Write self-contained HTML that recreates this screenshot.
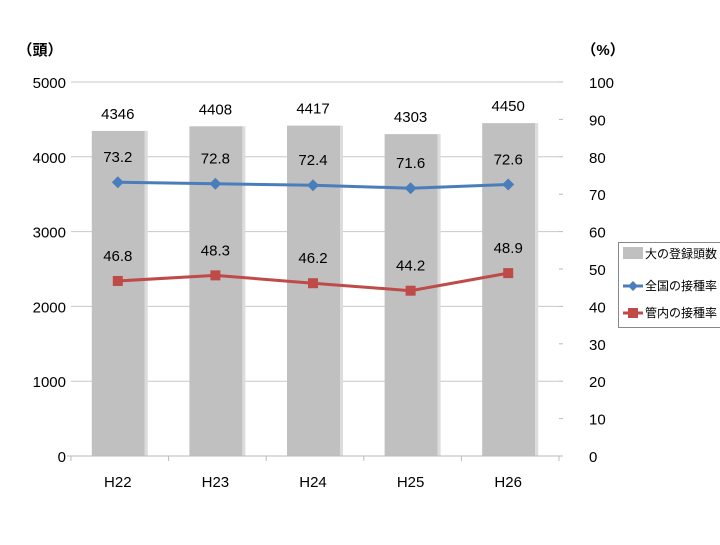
<!DOCTYPE html>
<html><head><meta charset="utf-8"><style>
body{margin:0;background:#fff}
svg text{font-family:"Liberation Sans","Noto Sans CJK JP",sans-serif;fill:#000}
</style></head><body>
<svg id="c" width="720" height="540" xmlns="http://www.w3.org/2000/svg"></svg>
<script>
const categories=["H22","H23","H24","H25","H26"];
const dogCounts=[4346,4408,4417,4303,4450];
const nationalRate=[73.2,72.8,72.4,71.6,72.6];
const localRate=[46.8,48.3,46.2,44.2,48.9];
const leftTicks=[0,1000,2000,3000,4000,5000];
const rightTicks=[0,10,20,30,40,50,60,70,80,90,100];
const svg=document.getElementById('c');
const NS="http://www.w3.org/2000/svg";
const X0=71,X1=559,Y0=456,Y1=82;
const bw=(X1-X0)/categories.length;
const xc=i=>X0+bw*(i+0.5);
const yL=v=>Y0-(v/5000)*(Y0-Y1);
const yR=v=>Y0-(v/100)*(Y0-Y1);
function mk(tag,attrs,parent){const e=document.createElementNS(NS,tag);for(const k in attrs)e.setAttribute(k,attrs[k]);(parent||svg).appendChild(e);return e;}
function txt(x,y,s,size,anchor){const t=mk('text',{x:x,y:y,'font-size':size,'text-anchor':anchor||'middle'});t.textContent=s;return t;}
leftTicks.forEach(v=>{
  const y=yL(v);
  if(v>0){const g=mk('line',{x1:X0,x2:X1,y1:y,y2:y,stroke:'#c8c8c8','stroke-width':1});
  
  }
  const t=txt(66,y+6,String(v),15,'end');
  
  
});
rightTicks.forEach(v=>{
  const y=yR(v);
  mk('line',{x1:X1,x2:X1+4,y1:y,y2:y,stroke:'#bbb'});
  const t=txt(589,y+6,String(v),15,'start');
  
  
});
const ty=txt(40,55,'（頭）',15);
ty.setAttribute('font-weight','bold');


const tr=txt(603,55,'（%）',15);
tr.setAttribute('font-weight','bold');


dogCounts.forEach((v,i)=>{
  const b=mk('rect',{x:xc(i)-28,y:yL(v),width:53,height:Y0-yL(v),fill:'#c0c0c0'});
  
  
  mk('rect',{x:xc(i)+25,y:yL(v),width:3,height:Y0-yL(v),fill:'#dcdcdc'});
  const t=txt(xc(i)-2,yL(v)-12,String(v),15);
  
  
});
mk('line',{x1:X0-4,x2:X1+4,y1:Y0,y2:Y0,stroke:'#bbb'});
for(let i=0;i<=categories.length;i++){mk('line',{x1:X0+bw*i,x2:X0+bw*i,y1:Y0,y2:Y0+5,stroke:'#bbb'});}
categories.forEach((c,i)=>{const t=txt(xc(i)-2,487,c,15);
  
  });
function series(vals,color,marker,name){
  const pts=vals.map((v,i)=>(xc(i)-2)+','+yR(v)).join(' ');
  const l=mk('polyline',{points:pts,fill:'none',stroke:color,'stroke-width':3});
  
  
  vals.forEach((v,i)=>{
    const x=xc(i)-2,y=yR(v);
    let m;
    if(marker==='d')m=mk('polygon',{points:`${x},${y-6} ${x+6},${y} ${x},${y+6} ${x-6},${y}`,fill:color});
    else m=mk('rect',{x:x-5,y:y-5,width:10,height:10,fill:color});
    
    
    const t=txt(x,y-20,v.toFixed(1),15);
    
    
  });
}
series(nationalRate,'#4a7ebb','d','national-rate');
series(localRate,'#be4b48','s','local-rate');
const lg=mk('g',{});


mk('rect',{x:618.5,y:242.5,width:110,height:85,fill:'#fff',stroke:'#888'},lg);
mk('rect',{x:623,y:247,width:20,height:12,fill:'#c0c0c0'},lg);
txt(645,258,'大の登録頭数',12,'start');
mk('line',{x1:623,x2:643,y1:286,y2:286,stroke:'#4a7ebb','stroke-width':3},lg);
mk('polygon',{points:'633,281 638,286 633,291 628,286',fill:'#4a7ebb'},lg);
txt(645,290,'全国の接種率',12,'start');
mk('line',{x1:623,x2:643,y1:313,y2:313,stroke:'#be4b48','stroke-width':3},lg);
mk('rect',{x:628,y:308,width:10,height:10,fill:'#be4b48'},lg);
txt(645,317,'管内の接種率',12,'start');
</script>
</body></html>
